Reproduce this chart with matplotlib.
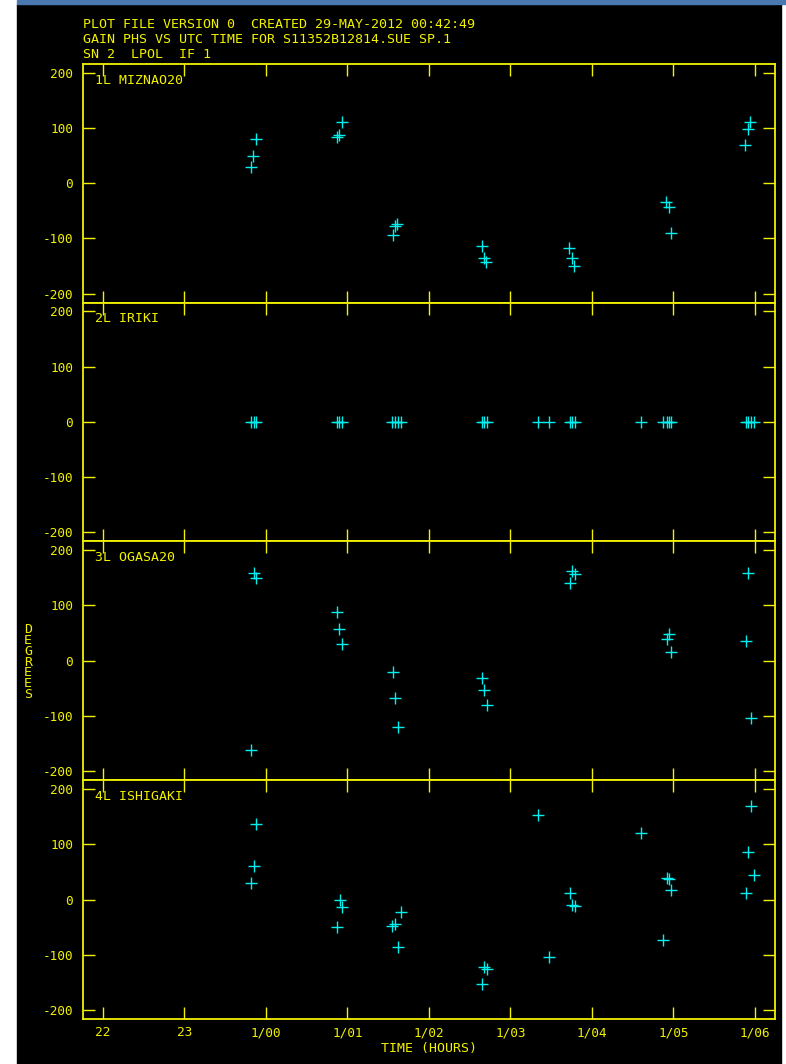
import matplotlib
matplotlib.use("Agg")
import matplotlib.pyplot as plt
from matplotlib.patches import Rectangle

plt.rcParams['font.family'] = ['DejaVu Sans Mono']
plt.rcParams['axes.unicode_minus'] = False

# hours UTC (24 = 1/00 next day)
t_mizna = [23.82, 23.849, 23.877, 24.871, 24.904, 24.932, 25.557, 25.586, 25.615,
           26.649, 26.677, 26.707, 27.725, 27.753, 27.78, 28.914, 28.943, 28.967,
           29.883, 29.91, 29.936]
ph_mizna = [30, 50, 81, 83, 87, 111, -93, -77, -73,
            -114, -136, -142, -118, -136, -149, -34, -43, -91,
            69, 99, 111]

t_iriki = [23.82, 23.85, 23.88, 24.874, 24.904, 24.934, 25.554, 25.588, 25.618, 25.657,
           26.651, 26.682, 26.712, 27.344, 27.478, 27.727, 27.758, 27.788,
           28.601, 28.868, 28.92, 28.946, 28.97, 29.888, 29.918, 29.948, 29.987]
ph_iriki = [0] * len(t_iriki)

t_ogasa = [23.82, 23.854, 23.88, 24.874, 24.904, 24.934, 25.558, 25.588, 25.618,
           26.651, 26.682, 26.712, 27.727, 27.758, 27.788, 28.92, 28.946, 28.97,
           29.888, 29.918, 29.948]
ph_ogasa = [-162, 159, 149, 89, 58, 30, -20, -67, -120,
            -31, -53, -80, 140, 162, 157, 39, 48, 15,
            36, 159, -103]

t_ishi = [23.82, 23.85, 23.88, 24.874, 24.908, 24.934, 25.554, 25.584, 25.618, 25.657,
          26.651, 26.682, 26.712, 27.344, 27.478, 27.727, 27.758, 27.788,
          28.601, 28.868, 28.92, 28.946, 28.97, 29.888, 29.918, 29.948, 29.987]
ph_ishi = [31, 61, 136, -50, -1, -13, -48, -44, -85, -22,
           -153, -121, -126, 153, -104, 12, -9, -12,
           121, -72, 40, 37, 18, 13, 86, 170, 45]

labels = ["1L MIZNAO20", "2L IRIKI", "3L OGASA20", "4L ISHIGAKI"]
times = [t_mizna, t_iriki, t_ogasa, t_ishi]
phases = [ph_mizna, ph_iriki, ph_ogasa, ph_ishi]

xticks = [22, 23, 24, 25, 26, 27, 28, 29, 30]
xticklabels = ["22", "23", "1/00", "1/01", "1/02", "1/03", "1/04", "1/05", "1/06"]
yticks = [200, 100, 0, -100, -200]

header = ["PLOT FILE VERSION 0  CREATED 29-MAY-2012 00:42:49",
          "GAIN PHS VS UTC TIME FOR S11352B12814.SUE SP.1",
          "SN 2  LPOL  IF 1"]

YEL = '#f2f200'
CYAN = '#00f0f0'
W, H = 786, 1064

fig = plt.figure(figsize=(W / 100, H / 100), dpi=100, facecolor='white')
# black screen area and title bar
fig.patches.append(Rectangle((17 / W, 0), (781 - 17) / W, 1 - 4 / H,
                             transform=fig.transFigure, color='black', zorder=-2))
fig.patches.append(Rectangle((17 / W, 1 - 4 / H), (786 - 17) / W, 4 / H,
                             transform=fig.transFigure, color='#4a78b0', zorder=-2))

left, right = 82.7, 775.3
edges = [64, 302.5, 541.3, 780.2, 1019.3]

for i in range(4):
    top, bot = edges[i], edges[i + 1]
    ax = fig.add_axes([left / W, 1 - bot / H, (right - left) / W, (bot - top) / H])
    ax.set_facecolor('black')
    ax.plot(times[i], phases[i], '+', color=CYAN, markersize=9, mew=1.0, clip_on=False)
    ax.set_xlim(21.755, 30.249)
    ax.set_ylim(-216, 216)
    ax.set_xticks(xticks)
    ax.set_yticks(yticks)
    ax.set_yticklabels([str(v) for v in yticks])
    if i == 3:
        ax.set_xticklabels(xticklabels)
        ax.set_xlabel("TIME (HOURS)", color=YEL, fontsize=9.5, labelpad=2)
    else:
        ax.set_xticklabels([])
    ax.tick_params(axis='x', direction='in', top=True, bottom=True, length=8.8,
                   width=1, color=YEL, labelcolor=YEL, labelsize=9.2, pad=5)
    ax.tick_params(axis='y', direction='in', left=True, right=True, length=8.8,
                   width=1, color=YEL, labelcolor=YEL, labelsize=9.2, pad=7)
    for s in ax.spines.values():
        s.set_color(YEL)
        s.set_linewidth(1.3)
    ax.text(95 / W, 1 - (top + 16) / H, labels[i], transform=fig.transFigure,
            color=YEL, fontsize=9.5, va='center', ha='left')

for j, line in enumerate(header):
    fig.text(83 / W, 1 - (25 + 14.5 * j) / H, line, color=YEL, fontsize=9.6,
             va='center', ha='left')

fig.text(28 / W, 1 - 662 / H, "\n".join("DEGREES"), color=YEL, fontsize=9.5,
         va='center', ha='center', linespacing=0.78)

fig.savefig("out.png", dpi=100, facecolor=fig.get_facecolor())
